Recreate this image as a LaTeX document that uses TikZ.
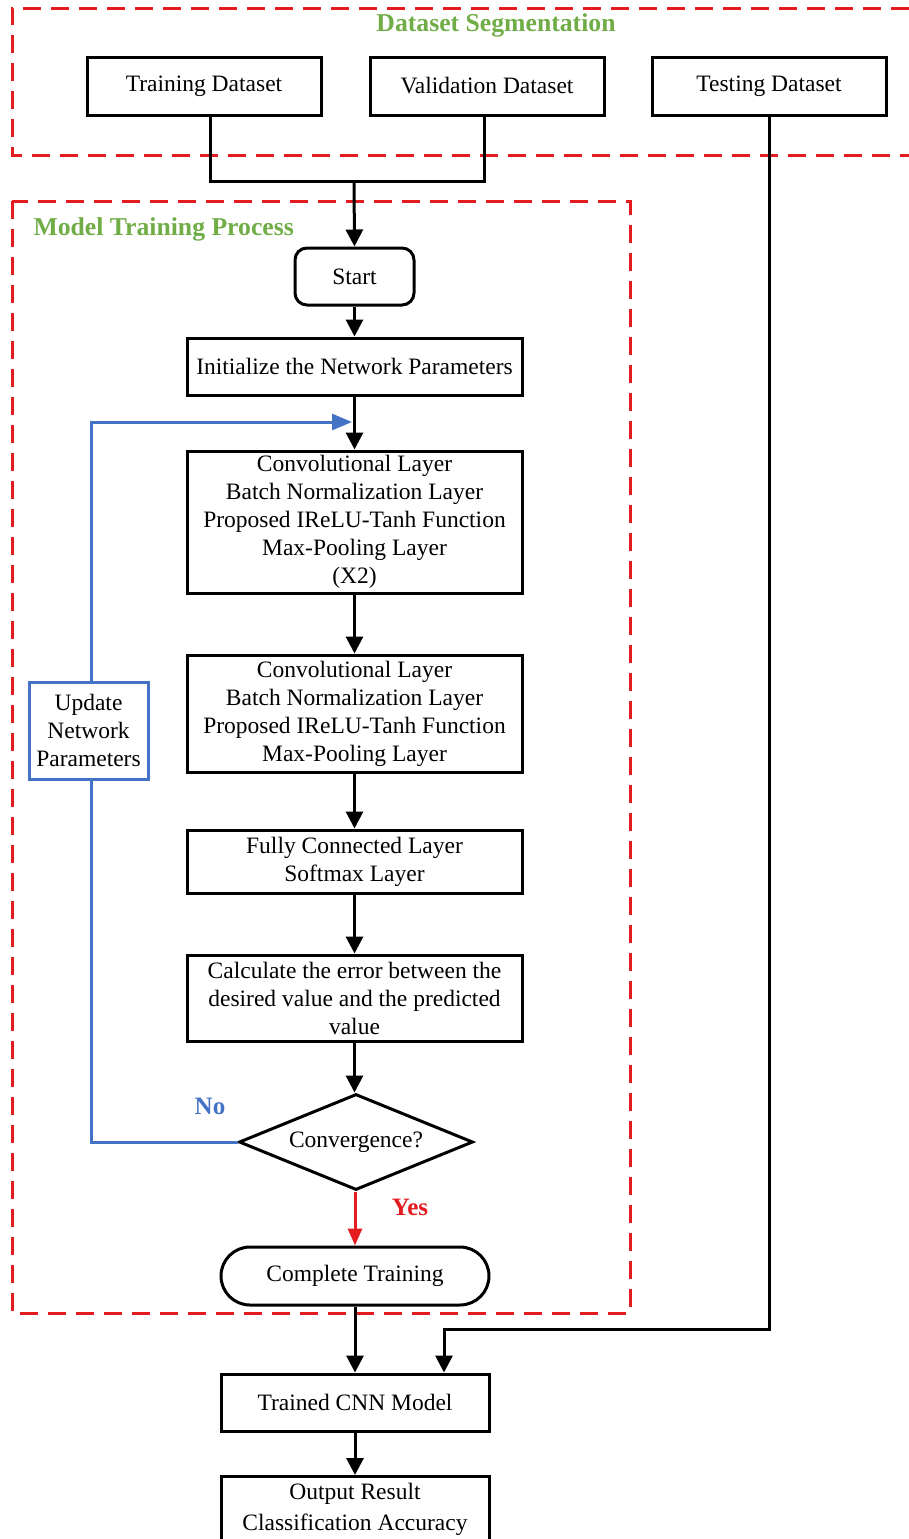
\documentclass[tikz,border=0pt]{standalone}
\usepackage{fontspec}
\setmainfont{Liberation Serif}
\usetikzlibrary{arrows.meta,shapes.geometric,calc}

\definecolor{titlegreen}{RGB}{112,173,71}
\definecolor{loopblue}{RGB}{68,114,196}
\definecolor{framered}{RGB}{228,28,32}

\tikzset{
  every node/.style={font=\fontsize{23.5}{28}\selectfont},
  stepbox/.style={draw=black, line width=3pt, align=center, inner sep=0pt},
  flow/.style={line width=3pt, -{Triangle[length=17pt,width=17pt]}},
  plainline/.style={line width=3pt},
  groupframe/.style={draw=framered, line width=3pt, dash pattern=on 18pt off 10pt},
  grouptitle/.style={text=titlegreen, font=\fontsize{25.7}{30}\selectfont\bfseries},
}

\begin{document}
\begin{tikzpicture}[x=1pt, y=-1pt]
\useasboundingbox (0,0) rectangle (909,1539);

% group frames
\draw[groupframe] (909,8) -- (12,8) -- (12,155) -- (909,155);
\draw[groupframe] (12,201) rectangle (630,1313);
\node[grouptitle] (segtitle) at (496,25) {Dataset Segmentation};
\node[grouptitle, anchor=west] (traintitle) at (30,229) {Model Training Process};

% dataset boxes
\node[stepbox, minimum width=234pt, minimum height=58pt] (train) at (204,86) {Training Dataset};
\node[stepbox, minimum width=234pt, minimum height=58pt] (valid) at (487,86) {Validation Dataset};
\node[stepbox, minimum width=234pt, minimum height=58pt] (test) at (769,86) {Testing Dataset};

% training pipeline
\node[stepbox, rounded corners=12pt, minimum width=119pt, minimum height=57pt] (start) at (354.5,276.5) {Start};
\node[stepbox, minimum width=335pt, minimum height=57pt] (init) at (354.5,366.5) {Initialize the Network Parameters};
\node[stepbox, minimum width=335pt, minimum height=142pt] (conva) at (354.5,522) {Convolutional Layer\\Batch Normalization Layer\\Proposed IReLU-Tanh Function\\Max-Pooling Layer\\(X2)};
\node[stepbox, minimum width=335pt, minimum height=117pt] (convb) at (354.5,713.5) {Convolutional Layer\\Batch Normalization Layer\\Proposed IReLU-Tanh Function\\Max-Pooling Layer};
\node[stepbox, minimum width=335pt, minimum height=63pt] (fc) at (354.5,861.5) {Fully Connected Layer\\Softmax Layer};
\node[stepbox, minimum width=335pt, minimum height=86pt] (err) at (354.5,998) {Calculate the error between the\\desired value and the predicted\\value};
\node[stepbox, shape=diamond, aspect=2.4375, minimum width=234pt, minimum height=96pt] (conv) at (356,1142) {Convergence?};
\node[stepbox, rounded corners=29pt, minimum width=268pt, minimum height=58pt] (done) at (355,1276) {Complete Training};
\node[stepbox, minimum width=268pt, minimum height=57pt] (model) at (355,1402.5) {Trained CNN Model};
\node[stepbox, minimum width=268pt, minimum height=80pt, anchor=north] (out) at (355,1475) {};
\node (outtext) at (355,1509) [align=center, font=\fontsize{23.5}{31}\selectfont] {Output Result\\Classification Accuracy};

% update loop
\node[stepbox, draw=loopblue, minimum width=119pt, minimum height=97pt] (update) at (88.5,730.5) {Update\\Network\\Parameters};
\coordinate (loopin) at (352,422);
\coordinate (looptop) at (91,422);
\coordinate (loopbot) at (91,1142);

% connectors from the datasets
\coordinate (merge) at (354,181);
\draw[plainline] (train.south -| 210,0) |- (merge) -| (valid.south -| 484,0);
\draw[flow] (merge) -- (start.north);

% pipeline connectors
\draw[flow] (start.south) -- (init.north);
\draw[flow] (init.south) -- (conva.north);
\draw[flow] (conva.south) -- (convb.north);
\draw[flow] (convb.south) -- (fc.north);
\draw[flow] (fc.south) -- (err.north);
\draw[flow] (err.south) -- (conv.north -| err.south);
\draw[line width=3pt, draw=framered, -{Triangle[length=17pt,width=14pt,fill=framered]}] (conv.south -| done.north) -- (done.north);
\draw[flow] (done.south) -- (model.north);
\draw[flow] (model.south) -- (out.north);

% testing branch
\coordinate (testturn) at (444,1329);
\draw[flow] (test.south) |- (testturn) -- (model.north -| testturn);

% feedback loop
\draw[line width=3pt, draw=loopblue] (conv.west) -- (loopbot) -- (update.south -| loopbot);
\draw[line width=3pt, draw=loopblue, -{Triangle[length=20pt,width=16pt]}, color=loopblue] (update.north -| looptop) -- (looptop) -- (loopin);

% branch labels
\node[text=loopblue, font=\fontsize{25}{30}\selectfont\bfseries] (nolabel) at (210,1106) {No};
\node[text=framered, font=\fontsize{25}{30}\selectfont\bfseries] (yeslabel) at (410,1207) {Yes};
\end{tikzpicture}
\end{document}
